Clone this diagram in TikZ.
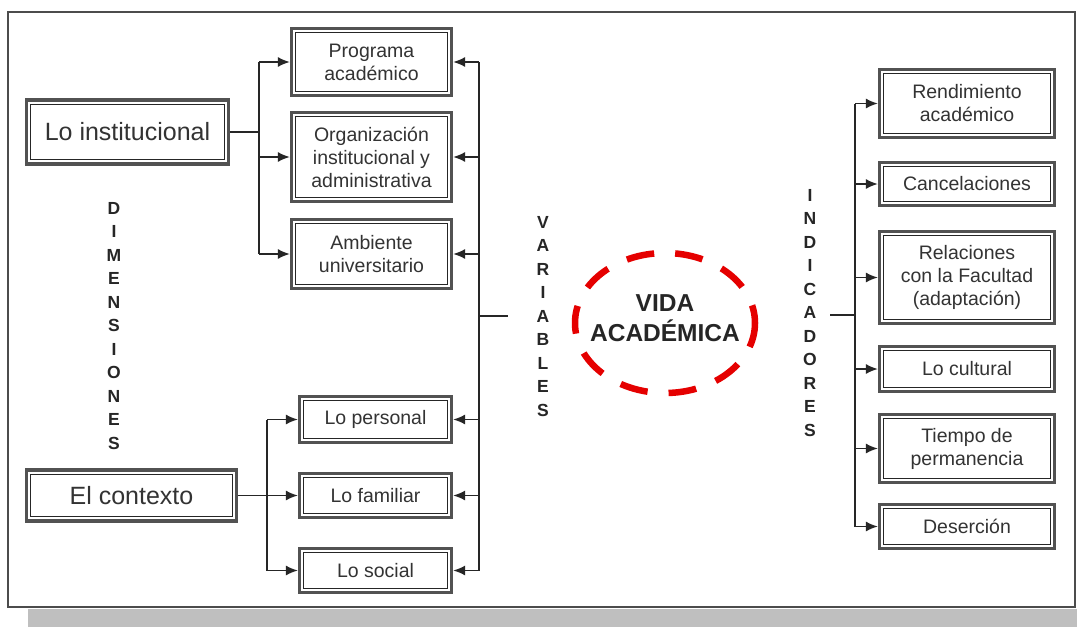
\documentclass[tikz,border=0pt]{standalone}
\usepackage{fontspec}
\setmainfont{Liberation Sans}
\usetikzlibrary{arrows.meta,shapes.geometric}
\begin{document}
\begin{tikzpicture}[x=1pt,y=-1pt,
  dbox/.style={draw=black!68, line width=3.2pt, fill=white, align=center, text=black!80,
    font=\fontsize{19.5}{23}\selectfont, inner sep=0pt,
    path picture={\draw[black!85, line width=1pt]
      ([shift={(4.3pt,-4.3pt)}]path picture bounding box.north west) rectangle
      ([shift={(-4.3pt,4.3pt)}]path picture bounding box.south east);}},
  bigbox/.style={dbox, font=\fontsize{25}{28}\selectfont},
  ln/.style={draw=black!85, line width=1.6pt},
  arr/.style={ln, -{Latex[length=12pt,width=10pt]}},
  vlet/.style={align=center, text=black!85, inner sep=0pt,
    font=\bfseries\fontsize{17.5}{23.5}\selectfont}]
\useasboundingbox (0,0) rectangle (1077,627);
% shadow and frame
\fill[black!25] (28,609) rectangle (1077,627);
\fill[white] (8,12) rectangle (1075,607);
\draw[black!70, line width=2.5pt] (8,12) rectangle (1075,607);

% left-side boxes
\node[bigbox, minimum width=202pt, minimum height=64pt] (inst) at (127.5,132) {Lo institucional};
\node[bigbox, minimum width=210pt, minimum height=51pt] (ctx) at (131.5,495.5) {El contexto};

\node[dbox, minimum width=160pt, minimum height=67pt] (prog) at (371.5,62) {Programa\\académico};
\node[dbox, minimum width=160pt, minimum height=89pt] (org) at (371.5,157) {Organización\\institucional y\\administrativa};
\node[dbox, minimum width=160pt, minimum height=69pt] (amb) at (371.5,254) {Ambiente\\universitario};
\node[dbox, minimum width=152pt, minimum height=46pt] (pers) at (375.5,419.5) {Lo personal};
\node[dbox, minimum width=152pt, minimum height=44pt] (fam) at (375.5,495.5) {Lo familiar};
\node[dbox, minimum width=152pt, minimum height=44pt] (soc) at (375.5,570.5) {Lo social};

% right-side boxes
\node[dbox, minimum width=175pt, minimum height=68pt] (rend) at (967,103.5) {Rendimiento\\académico};
\node[dbox, minimum width=175pt, minimum height=43pt] (canc) at (967,184) {Cancelaciones};
\node[dbox, minimum width=175pt, minimum height=92pt] (rel) at (967,277.5) {Relaciones\\con la Facultad\\(adaptación)};
\node[dbox, minimum width=175pt, minimum height=45pt] (cult) at (967,369) {Lo cultural};
\node[dbox, minimum width=175pt, minimum height=68pt] (tiem) at (967,448.5) {Tiempo de\\permanencia};
\node[dbox, minimum width=175pt, minimum height=44pt] (des) at (967,526.5) {Deserción};

% vertical labels
\node[vlet] (dim) at (114,326) {D\\I\\M\\E\\N\\S\\I\\O\\N\\E\\S};
\node[vlet] (var) at (543,316.5) {V\\A\\R\\I\\A\\B\\L\\E\\S};
\node[vlet] (ind) at (810,313) {I\\N\\D\\I\\C\\A\\D\\O\\R\\E\\S};

% central ellipse
\node[draw=red!90!black, line width=6.5pt, dash pattern=on 28pt off 21pt, dash phase=10pt,
  ellipse, minimum width=180pt, minimum height=140pt, inner sep=0pt] (vida) at (665,323) {};
\node[align=center, text=black!85, font=\bfseries\fontsize{24.5}{30}\selectfont] (vidat) at (665,318) {VIDA\\ACADÉMICA};

% connectors: Lo institucional
\coordinate (lb) at (259,132);
\draw[ln] (inst.east) -- (lb);
\draw[ln] (lb |- prog.west) -- (lb |- amb.west);
\draw[arr] (lb |- prog.west) -- (prog.west);
\draw[arr] (lb |- org.west) -- (org.west);
\draw[arr] (lb |- amb.west) -- (amb.west);

% connectors: El contexto
\coordinate (cb) at (267,495.5);
\draw[arr] (ctx.east) -- (fam.west);
\draw[ln] (cb |- pers.west) -- (cb |- soc.west);
\draw[arr] (cb |- pers.west) -- (pers.west);
\draw[arr] (cb |- soc.west) -- (soc.west);

% connectors: variables bus
\coordinate (vb) at (479,316);
\coordinate (vs) at (508,316);
\draw[ln] (vb |- prog.east) -- (vb |- soc.east);
\draw[ln] (vb) -- (vs);
\foreach \n in {prog,org,amb,pers,fam,soc}
  \draw[arr] (vb |- \n.east) -- (\n.east);

% connectors: indicadores bus
\coordinate (ib) at (855,315);
\coordinate (is) at (830,315);
\draw[ln] (ib |- rend.west) -- (ib |- des.west);
\draw[ln] (is) -- (ib);
\foreach \n in {rend,canc,rel,cult,tiem,des}
  \draw[arr] (ib |- \n.west) -- (\n.west);
\end{tikzpicture}
\end{document}
